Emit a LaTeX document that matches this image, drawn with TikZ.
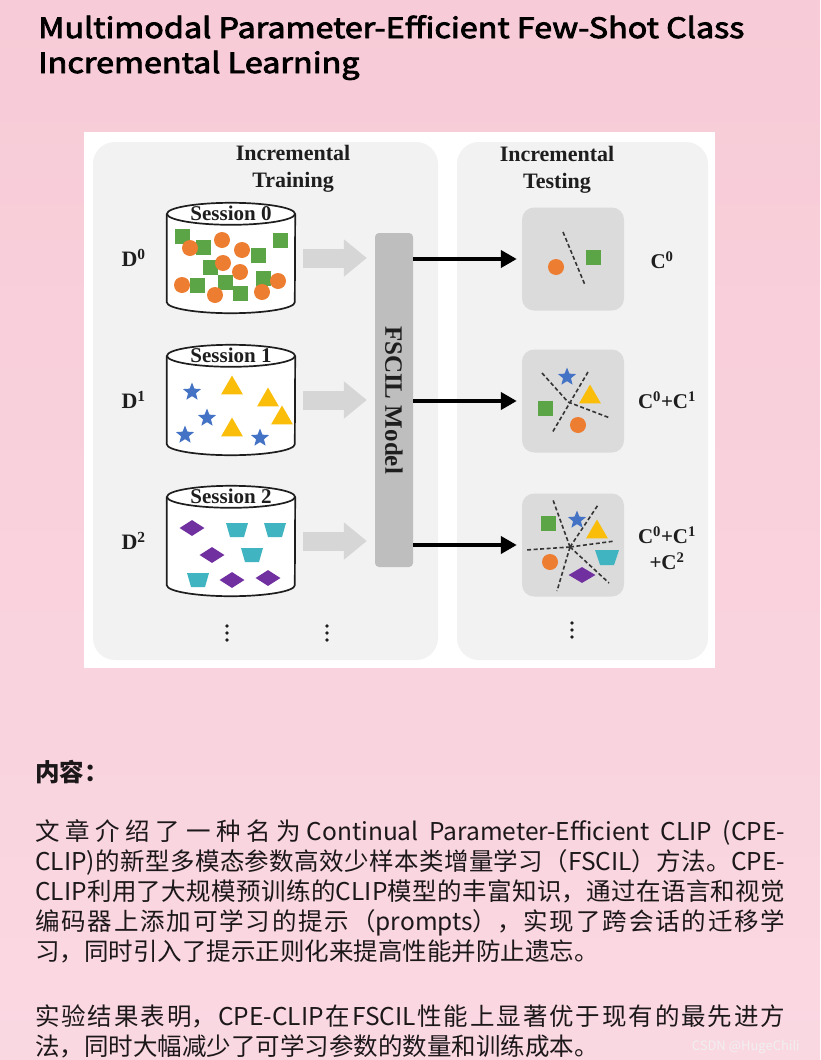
\documentclass[tikz,border=0pt]{standalone}
\usepackage{fontspec}
\setmainfont{Noto Sans CJK SC}
\newfontfamily\figfont{Liberation Serif}
\newfontfamily\titlefont[FakeBold=3, FakeStretch=1.155]{Noto Sans CJK SC}
\usepackage{xcolor}
\usetikzlibrary{shapes.geometric, arrows.meta, positioning, calc}
\XeTeXlinebreaklocale "zh"
\XeTeXlinebreakskip=0pt plus 3pt
\tolerance=10000

\definecolor{bgtop}{RGB}{247,203,215}
\definecolor{bgbottom}{RGB}{250,216,226}
\definecolor{panelgray}{RGB}{242,242,242}
\definecolor{boxgray}{RGB}{219,219,219}
\definecolor{modelgray}{RGB}{190,190,190}
\definecolor{arrowgray}{RGB}{214,214,214}
\definecolor{figink}{RGB}{30,30,30}
\definecolor{bodyink}{RGB}{28,24,26}
\definecolor{sqgreen}{RGB}{92,165,70}
\definecolor{ballorange}{RGB}{237,125,49}
\definecolor{starblue}{RGB}{68,114,196}
\definecolor{triyellow}{RGB}{250,190,10}
\definecolor{diapurple}{RGB}{112,48,160}
\definecolor{trapcyan}{RGB}{64,180,192}

\tikzset{
  panel/.style={rectangle, rounded corners=22pt, fill=panelgray, inner sep=0pt},
  colhead/.style={font=\figfont\bfseries\fontsize{22}{27}\selectfont, align=center, text=figink, inner sep=0pt},
  sesslabel/.style={font=\figfont\bfseries\fontsize{21}{21}\selectfont, text=figink, inner sep=0pt},
  dlabel/.style={font=\figfont\bfseries\fontsize{22}{22}\selectfont, text=figink, inner sep=0pt},
  clabel/.style={font=\figfont\bfseries\fontsize{21}{26}\selectfont, text=figink, align=center, inner sep=0pt},
  sessbody/.style={rectangle, minimum width=128pt, minimum height=88pt, inner sep=0pt},
  cylline/.style={draw=figink, line width=1.7pt},
  modelbar/.style={rectangle, rounded corners=4pt, fill=modelgray, minimum width=38pt, minimum height=334pt, inner sep=0pt},
  modeltext/.style={font=\figfont\bfseries\fontsize{25}{25}\selectfont, text=figink, rotate=-90},
  testbox/.style={rectangle, rounded corners=12pt, fill=boxgray, minimum width=102pt, minimum height=103pt},
  feed/.style={line width=19pt, draw=arrowgray, -{Triangle[length=23pt, width=36pt]}, shorten <=8pt, shorten >=8pt},
  outarrow/.style={line width=4pt, draw=black, -{Triangle[length=16pt, width=17pt]}, shorten >=5pt},
  splitline/.style={draw=figink!90, line width=1.6pt, dash pattern=on 4pt off 2.5pt},
  sqmark/.style={rectangle, fill=sqgreen, minimum size=15pt, inner sep=0pt},
  ball/.style={circle, fill=ballorange, minimum size=16pt, inner sep=0pt},
  starmark/.style={star, star points=5, star point ratio=2.3, fill=starblue, minimum size=19pt, inner sep=0pt},
  trimark/.style={regular polygon, regular polygon sides=3, fill=triyellow, minimum size=25pt, inner sep=0pt},
  diamark/.style={diamond, fill=diapurple, minimum width=25pt, minimum height=16pt, inner sep=0pt},
  trapfill/.style={fill=trapcyan},
  titletext/.style={font=\titlefont\fontsize{28}{35}\selectfont, text=black, inner sep=0pt},
  bodytext/.style={font=\fontsize{24.5}{30}\selectfont, text=bodyink, text width=750pt, align=justify, inner sep=0pt},
}

\begin{document}
\begin{tikzpicture}[x=1pt, y=-1pt]
  \useasboundingbox (0,0) rectangle (820,1060);
  \shade[top color=bgtop, bottom color=bgbottom] (0,0) rectangle (820,1060);

  % title
  \node[titletext, anchor=base west] (title1) at (38,38) {Multimodal Parameter-Efficient Few-Shot Class};
  \node[titletext, anchor=base west] (title2) at (38,73) {Incremental Learning};

  % figure
  \fill[white] (84,132) rectangle (715,668);
  \node[panel, minimum width=345pt, minimum height=518pt] (trainpanel) at (265.5,401) {};
  \node[panel, minimum width=251pt, minimum height=518pt] (testpanel) at (582.5,401) {};
  \node[colhead] (trainhead) at (293,169) {Incremental\\Training};
  \node[colhead] (testhead) at (557,170) {Incremental\\Testing};

  \node[modelbar] (model) at (394,400) {};
  \node[modeltext] (modellabel) at (model) {FSCIL Model};

  \node[testbox] (tbox0) at (573,259) {};
  \node[testbox] (tbox1) at (573,401) {};
  \node[testbox] (tbox2) at (573,545) {};

  \foreach \i/\y in {0/258, 1/400, 2/541} {
    \node[sessbody] (sess\i) at (231,\y) {};
    \fill[white] (sess\i.north west) -- (sess\i.south west)
      arc[start angle=180, end angle=360, x radius=64pt, y radius=11pt] -- (sess\i.north east) -- cycle;
    \draw[cylline] (sess\i.north west) -- (sess\i.south west)
      arc[start angle=180, end angle=360, x radius=64pt, y radius=11pt] -- (sess\i.north east);
    \filldraw[cylline, fill=white] (sess\i.north) ellipse[x radius=64pt, y radius=11pt];
    \node[sesslabel] (slabel\i) at (sess\i.north) {Session \i};
    \node[dlabel, left=21pt of sess\i] (d\i) {D\textsuperscript{\i}};
    \draw[feed] (sess\i.east) -- (model.west |- sess\i.east);
    \draw[outarrow] (model.east |- tbox\i.west) -- (tbox\i.west);
  }

  % session 0: squares and circles
  \foreach \x/\y in {182/236, 203/247, 258/255, 280/240, 210/267, 225/282, 197/285, 240/293, 263/278}
    \node[sqmark] at (\x,\y) {};
  \foreach \x/\y in {190/248, 222/240, 242/250, 223/263, 240/272, 182/285, 215/295, 262/292, 278/281}
    \node[ball] at (\x,\y) {};
  % session 1: stars and triangles
  \foreach \x/\y in {192/392, 207/418, 185/435, 260/438}
    \node[starmark] at (\x,\y) {};
  \foreach \x/\y in {232/388, 268/400, 282/418, 232/430}
    \node[trimark] at (\x,\y) {};
  % session 2: diamonds and trapezoids
  \foreach \x/\y in {192/528, 212/555, 232/580, 268/578}
    \node[diamark] at (\x,\y) {};
  \foreach \x/\y in {237/530, 275/530, 252/555, 198/580}
    \fill[trapfill] (\x-11,\y-7) -- (\x+11,\y-7) -- (\x+7,\y+7) -- (\x-7,\y+7) -- cycle;

  % test boxes
  \begin{scope}[shift={(tbox0.center)}]
    \draw[splitline] (-10,-27) -- (12,26);
    \node[ball] at (-17,8) {};
    \node[sqmark] at (20,-2) {};
  \end{scope}
  \begin{scope}[shift={(tbox1.center)}]
    \draw[splitline] (-31,-28) -- (-5,1) -- (37,17);
    \draw[splitline] (15,-29) -- (-21,32);
    \node[starmark] at (-6,-24) {};
    \node[trimark] at (17,-4) {};
    \node[sqmark] at (-28,7) {};
    \node[ball] at (5,24) {};
  \end{scope}
  \begin{scope}[shift={(tbox2.center)}]
    \foreach \ex/\ey in {-20/-45, 25/-40, 42/-4, 36/38, -16/46, -47/5}
      \draw[splitline] (-3,2) -- (\ex,\ey);
    \node[sqmark] at (-25,-22) {};
    \node[starmark] at (4,-25) {};
    \node[trimark] at (24,-13) {};
    \fill[trapfill] (22,5) -- (46,5) -- (41,20) -- (27,20) -- cycle;
    \node[diamark, minimum width=27pt] at (9,30) {};
    \node[ball] at (-23,17) {};
  \end{scope}

  \node[clabel] (c0) at (662,260) {C\textsuperscript{0}};
  \node[clabel] (c1) at (667,400) {C\textsuperscript{0}+C\textsuperscript{1}};
  \node[clabel] (c2) at (667,548) {C\textsuperscript{0}+C\textsuperscript{1}\\+C\textsuperscript{2}};

  \foreach \x/\y in {227/633, 327/633, 572/630}
    \foreach \dy in {-7,0,7}
      \fill[figink] (\x,\y+\dy) circle[radius=1.9pt];

  % text below
  \node[font=\bfseries\fontsize{24.5}{30}\selectfont, text=bodyink, anchor=base west, inner sep=0pt] (contenthead) at (35,781) {内容：};
  \node[bodytext, anchor=north west] (para1) at (35,819) {文章介绍了一种名为Continual Parameter-Efficient CLIP (CPE-\linebreak
    CLIP)的新型多模态参数高效少样本类增量学习（FSCIL）方法。CPE-\linebreak
    CLIP利用了大规模预训练的CLIP模型的丰富知识，通过在语言和视觉\linebreak
    编码器上添加可学习的提示（prompts），实现了跨会话的迁移学\linebreak
    习，同时引入了提示正则化来提高性能并防止遗忘。};
  \node[bodytext, anchor=north west] (para2) at (35,1005) {实验结果表明，CPE-CLIP在FSCIL性能上显著优于现有的最先进方\linebreak
    法，同时大幅减少了可学习参数的数量和训练成本。};
  \node[font=\fontsize{13}{13}\selectfont, text=white!88!gray, anchor=base east, inner sep=0pt] (csdn) at (800,1050) {CSDN @HugeChili};
\end{tikzpicture}
\end{document}
